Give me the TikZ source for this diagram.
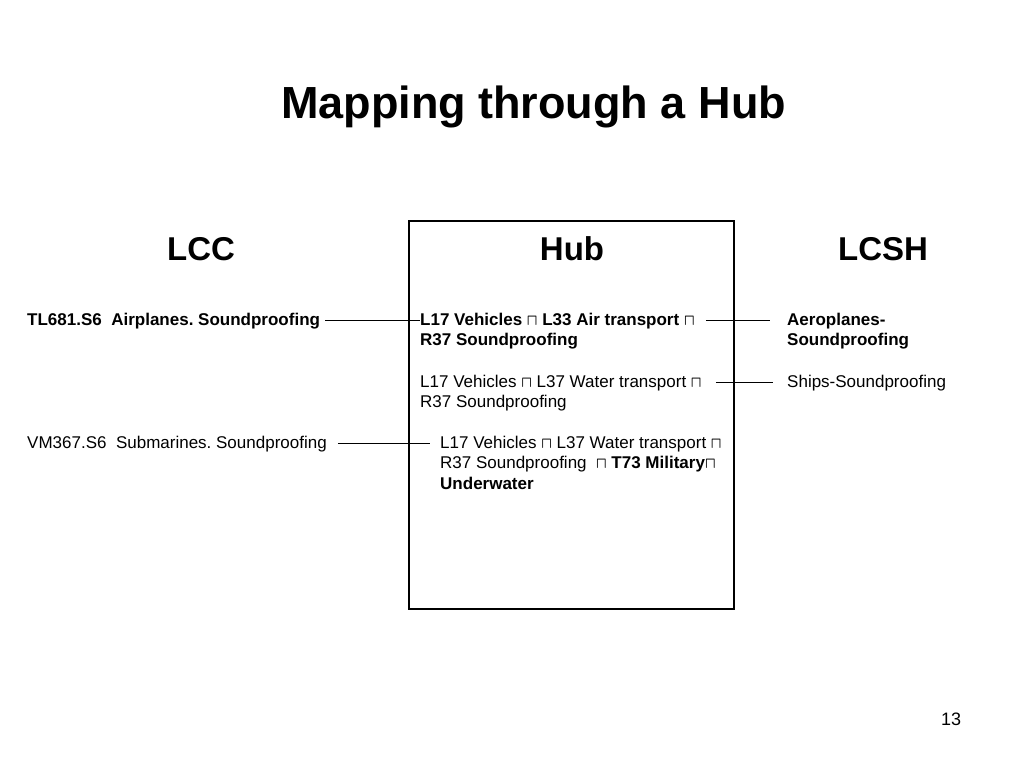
\documentclass[tikz,border=0pt]{standalone}
\usepackage{fontspec}
\setmainfont{Liberation Sans}
\usepackage{amssymb}
\usepackage{bm}
\usetikzlibrary{calc,positioning}
\newcommand{\meet}{\scalebox{0.8}[0.9]{\ensuremath{\bm{\sqcap}}}}
\frenchspacing
\begin{document}
\begin{tikzpicture}[x=1pt,y=-1pt,
  lbl/.style={anchor=base west,inner sep=0pt,align=left,font=\fontsize{17}{20.5}\selectfont},
  head/.style={anchor=base,inner sep=0pt,font=\fontsize{33}{38}\selectfont\bfseries},
  hubbox/.style={draw,line width=2.5pt,minimum width=325pt,minimum height=388pt,inner sep=0pt},
  link/.style={line width=1.5pt}]
\useasboundingbox (0,0) rectangle (1024,768);
\node (title) at (533.5,118)[anchor=base,inner sep=0pt,font=\fontsize{45}{50}\selectfont\bfseries] {Mapping through a Hub};
\node (hub) at (571.5,415)[hubbox] {};
\node (lcc) at (201,260)[head] {LCC};
\node (hubhead) at (572,260)[head] {Hub};
\node (lcsh) at (883,260)[head] {LCSH};

\node (lcc1) at (27,325)[lbl,font=\fontsize{17}{20.5}\selectfont\bfseries] {TL681.S6\ \ Airplanes. Soundproofing};
\node (lcc2) at (27,448)[lbl] {VM367.S6\ \ Submarines. Soundproofing};

\node (hub1) at (420,345.5)[lbl,font=\fontsize{17}{20.5}\selectfont\bfseries] {L17 Vehicles \meet{} L33 Air transport \meet\\R37 Soundproofing};
\node (hub2) at (420,407.5)[lbl] {L17 Vehicles \meet{} L37 Water transport \meet\\R37 Soundproofing};
\node (hub3) at (440,489)[lbl] {L17 Vehicles \meet{} L37 Water transport \meet\\R37 Soundproofing\ \ \meet{} \textbf{T73 Military\meet}\\\textbf{Underwater}};

\node (lcsh1) at (787,345.5)[lbl,font=\fontsize{17}{20.5}\selectfont\bfseries] {Aeroplanes-\\Soundproofing};
\node (lcsh2) at (787,387)[lbl] {Ships-Soundproofing};

\draw[link] ([xshift=5]lcc1.east) -- (lcc1.east -| hub1.west);
\draw[link] ([xshift=11]hub1.east |- lcc1.east) -- ([xshift=-17]lcsh1.west |- lcc1.east);
\draw[link] ([xshift=14]hub2.east |- lcsh2.west) -- ([xshift=-14]lcsh2.west);
\draw[link] ([xshift=11]lcc2.east) -- ([xshift=-10]lcc2.east -| hub3.west);

\node (page) at (951,725)[anchor=base,inner sep=0pt,font=\fontsize{18}{20}\selectfont] {13};
\end{tikzpicture}
\end{document}
